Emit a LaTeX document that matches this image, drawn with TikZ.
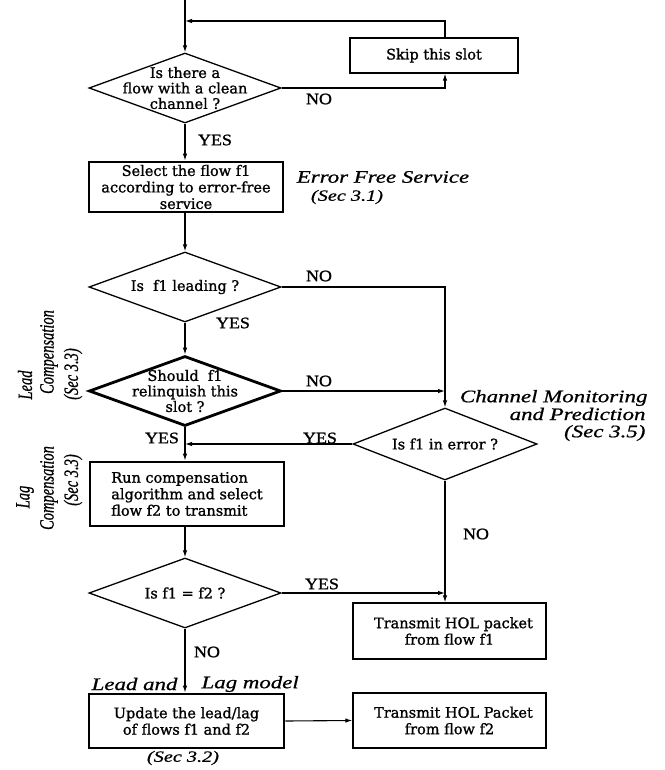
\documentclass[tikz,border=0pt]{standalone}
\usepackage{graphicx}
\usepackage{fontspec}
\setmainfont{DejaVu Serif}
\newfontfamily\bxf{DejaVu Serif}[FakeBold=1.2]
\newfontfamily\itf{Liberation Serif}[FakeStretch=1.3,FakeBold=0.8]
\newfontfamily\rotf{Liberation Serif}[FakeBold=0.8]
\newfontfamily\ynf{Liberation Serif}[FakeStretch=1.12,FakeBold=1.2]
\newcommand{\talltext}[1]{\scalebox{1}[1.4]{#1}}
\usetikzlibrary{arrows.meta,shapes.geometric,calc}
\begin{document}
\begin{tikzpicture}[x=1pt,y=-1pt,
  line width=1.1pt,
  >={Latex[length=7pt,width=4.5pt]},
  box/.style={draw, line width=1.3pt, inner sep=0pt, align=center,
    font=\bxf\fontsize{14.5}{16.5}\selectfont},
  thbox/.style={box, line width=2.8pt},
  dia/.style={draw, diamond, line width=1.3pt, minimum width=192pt,
    minimum height=70pt, inner sep=0pt},
  dtxt/.style={align=center, inner sep=0pt, font=\bxf\fontsize{14.5}{15.5}\selectfont},
  yn/.style={inner sep=0pt, font=\ynf\fontsize{16}{16}\selectfont},
  itl/.style={inner sep=0pt, font=\itf\itshape\fontsize{17.6}{18}\selectfont},
  itls/.style={inner sep=0pt, font=\itf\itshape\fontsize{15.6}{16}\selectfont},
  rot/.style={inner sep=0pt, rotate=90,
    font=\rotf\itshape\fontsize{14.5}{14.5}\selectfont}]
\useasboundingbox (0,0) rectangle (664,770);

% shapes
\node[dia] (d1) at (185,88) {};
\node[dtxt] (d1t) at (d1) {Is there a\\flow with a clean\\channel ?};
\node[box, minimum width=168pt, minimum height=35pt] (skip) at (434,55.5) {Skip this slot};
\node[thbox, minimum width=194pt, minimum height=50pt] (sel) at (186,187)
  {Select the flow f1\\according to error-free\\service};
\node[dia] (d2) at (185,287) {};
\node[dtxt] (d2t) at (d2) {Is\ \ f1 leading ?};
\node[dia, line width=2.8pt] (d3) at (185,391) {};
\node[dtxt] (d3t) at (d3) {Should\ \ f1\\relinquish this\\slot ?};
\node[dia, minimum width=184pt, minimum height=72pt] (d4) at (445,444) {};
\node[dtxt] (d4t) at (d4) {Is f1 in error ?};
\node[thbox, minimum width=194pt, minimum height=64pt, align=left] (run) at (187,494)
  {Run compensation\\algorithm and select\\flow f2 to transmit};
\node[dia] (d5) at (185,593) {};
\node[dtxt] (d5t) at (d5) {Is f1 = f2 ?};
\node[box, minimum width=193pt, minimum height=56pt] (t1) at (449.5,631)
  {\hspace*{8pt}Transmit HOL packet\\from flow f1};
\node[thbox, minimum width=195pt, minimum height=54pt] (upd) at (186.5,721)
  {Update the lead/lag\\of flows f1 and f2};
\node[box, minimum width=193pt, minimum height=55pt] (t2) at (449.5,720.5)
  {\hspace*{8pt}Transmit HOL Packet\\from flow f2};

% connectors
\coordinate (top) at (185,0);
\coordinate (fb) at (445,21);
\coordinate (fbl) at (185,21);
\draw[->] (top) -- (d1.north);
\draw[->] (skip.north -| fb) -- (fb) -- (fbl);
\draw[->] (d1.east) -- (d1.east -| fb) -- (skip.south -| fb);
\draw[->] (d1.south) -- (d1.south |- sel.north);
\draw[->] (d1.south |- sel.south) -- (d2.north);
\draw[->] (d2.south) -- (d3.north);
\draw[->] (d2.east) -- (d2.east -| d4) -- (d4.north);
\draw[->] (d3.east) -- (d3.east -| d4);
\draw[->] (d3.south) -- (d3.south |- run.north);
\draw[->] (d4.west) -- (d4.west -| d3);
\draw[->] (run.south -| d5) -- (d5.north);
\draw[->] (d4.south) -- (d4.south |- t1.north);
\draw[->] (d5.east) -- (d5.east -| d4);
\draw[->] (d5.south) -- (d5.south |- upd.north);
\draw[->] (upd.east) -- (t2.west);

% yes / no labels
\node[yn] (n1) at (319,99) {NO};
\node[yn] (y1) at (215,140) {YES};
\node[yn] (n2) at (319,276) {NO};
\node[yn] (y2) at (233,323) {YES};
\node[yn] (n3) at (319,381) {NO};
\node[yn] (y3) at (162,438) {YES};
\node[yn] (y4) at (320,438) {YES};
\node[yn] (n4) at (476,534) {NO};
\node[yn] (y5) at (322,584) {YES};
\node[yn] (n5) at (207,652) {NO};

% annotations
\node[itl] (efs) at (383,177) {Error Free Service};
\node[itls] (s31) at (347,197) {(Sec 3.1)};
\node[itl, anchor=east] (cm1) at (648,398) {Channel Monitoring};
\node[itl, anchor=east] (cm2) at (646,414) {and Prediction};
\node[itl, anchor=east] (cm3) at (646,433) {(Sec 3.5)};
\node[itl, anchor=east] (ll1) at (178,684) {Lead and};
\node[itl, anchor=west] (ll2) at (201,684) {Lag model};
\node[itls] (s32) at (183,758) {(Sec 3.2)};
\node[rot] (le1) at (25,385) {\talltext{Lead}};
\node[rot] (le2) at (49,352) {\talltext{Compensation}};
\node[rot] (le3) at (73,374) {\talltext{(Sec 3.3)}};
\node[rot] (la1) at (25,497) {\talltext{Lag}};
\node[rot] (la2) at (49,488) {\talltext{Compensation}};
\node[rot] (la3) at (73,480) {\talltext{(Sec 3.3)}};
\end{tikzpicture}
\end{document}
